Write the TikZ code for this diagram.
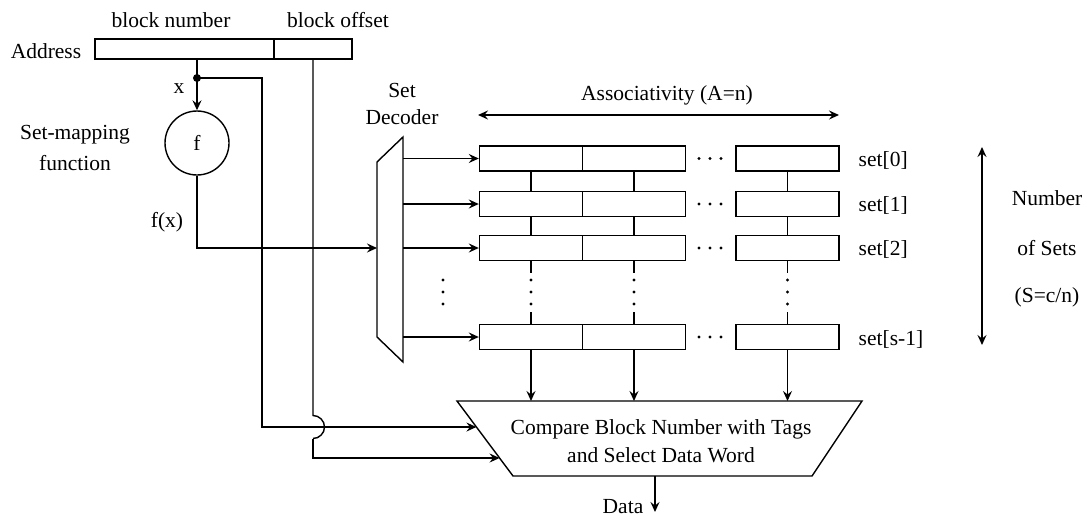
\documentclass[tikz,border=0pt]{standalone}
\usepackage{fontspec}
\setmainfont{Liberation Serif}
\usetikzlibrary{arrows.meta,calc}
\begin{document}
\begin{tikzpicture}[x=1pt,y=-1pt,line width=1.4pt,
  >={Stealth[length=10pt,width=9pt,inset=3.5pt]},
  lbl/.style={font=\fontsize{21.5}{28}\selectfont,inner sep=0pt},
  cell/.style={draw,minimum width=103pt,minimum height=25pt,inner sep=0pt},
  dotf/.style={fill,circle,inner sep=0pt,minimum size=3pt}]
\useasboundingbox (0,0) rectangle (1085,517);
% address
\node[draw,minimum width=179pt,minimum height=20pt,inner sep=0pt] (bn) at (184.5,49) {};
\node[draw,minimum width=78pt,minimum height=20pt,inner sep=0pt] (bo) at (313,49) {};
\node[lbl] (lbn) at (171,20) {block number};
\node[lbl] (lbo) at (338,20) {block offset};
\node[lbl] (laddr) at (46,51) {Address};
% set mapping
\coordinate (j) at (197,78);
\node[draw,circle,minimum size=64pt,inner sep=0pt] (fn) at (197,143) {};
\node[lbl] (flbl) at (fn) {f};
\node[lbl] (lx) at (179,89) {x};
\node[lbl] (lsm) at (75,135) {Set-mapping};
\node[lbl] (lfun) at (75,163) {function};
\node[lbl] (lfx) at (167,222) {f(x)};
\draw (bn.south -| j) -- (j);
\fill (j) circle (4pt);
\draw[->] (j) -- (fn.north);
% decoder
\coordinate (dtl) at (377,162);
\coordinate (dtr) at (403,137);
\coordinate (dbr) at (403,362);
\coordinate (dbl) at (377,337);
\draw (dtl) -- (dtr) -- (dbr) -- (dbl) -- cycle;
\node[lbl] (lset) at (402,90) {Set};
\node[lbl] (ldec) at (402,117) {Decoder};
\coordinate (din) at (377,248);
\draw[->] (fn.south) |- (din);
% cells
\foreach \r/\y in {0/158.5,1/204,2/248,3/337}{
  \node[cell] (r\r c1) at (531,\y) {};
  \node[cell] (r\r c2) at (634,\y) {};
  \node[cell] (r\r c3) at (787.5,\y) {};
  \draw[->] (dtr |- r\r c1.west) -- (r\r c1.west);
  \foreach \xx in {699,710,721}{\fill (\xx,\y) circle (1.6pt);}
}
\node[lbl,anchor=west] (s0) at (858,160) {set[0]};
\node[lbl,anchor=west] (s1) at (858,205.5) {set[1]};
\node[lbl,anchor=west] (s2) at (858,249.5) {set[2]};
\node[lbl,anchor=west] (s3) at (858,339) {set[s-1]};
\foreach \c in {1,2,3}{
  \draw (r0c\c.south) -- (r1c\c.north);
  \draw (r1c\c.south) -- (r2c\c.north);
  \draw (r2c\c.south) -- ++(0,11.5);
  \draw (r3c\c.north) -- ++(0,-11.5);
  \foreach \yy in {280,292,304}{\fill (r2c\c.south |- 0,\yy) circle (1.6pt);}
}
\foreach \yy in {280,292,304}{\fill (443,\yy) circle (1.6pt);}
% associativity
\coordinate (a1) at (478,115);
\coordinate (a2) at (839,115);
\draw[<->] (a1) -- (a2);
\node[lbl] (lassoc) at (667,95) {Associativity (A=n)};
% number of sets
\coordinate (n1) at (982,147);
\coordinate (n2) at (982,345);
\draw[<->] (n1) -- (n2);
\node[lbl] (ln1) at (1047,198) {Number};
\node[lbl] (ln2) at (1047,248) {of Sets};
\node[lbl] (ln3) at (1047,297) {(S=c/n)};
% compare
\coordinate (ctl) at (457,401);
\coordinate (ctr) at (862,401);
\coordinate (cbr) at (812,476);
\coordinate (cbl) at (513,476);
\draw (ctl) -- (ctr) -- (cbr) -- (cbl) -- cycle;
\node[lbl,align=center] (cmp) at (661,441) {Compare Block Number with Tags\\and Select Data Word};
\foreach \c in {1,2,3}{\draw[->] (r3c\c.south) -- (r3c\c.south |- ctl);}
\coordinate (in1) at ($(ctl)!0.347!(cbl)$);
\coordinate (in2) at ($(ctl)!0.76!(cbl)$);
\draw (j) -| (262,300);
\draw[->] (262,300) |- (in1);
\draw (bo.south) -- (313,415.5) arc[start angle=90,end angle=-90,radius=11.5pt];
\draw[->] (313,438.5) |- (in2);
% data
\coordinate (dout) at (655,512);
\draw[->] (655,476) -- (dout);
\node[lbl] (ldata) at (623,507) {Data};
\end{tikzpicture}
\end{document}
